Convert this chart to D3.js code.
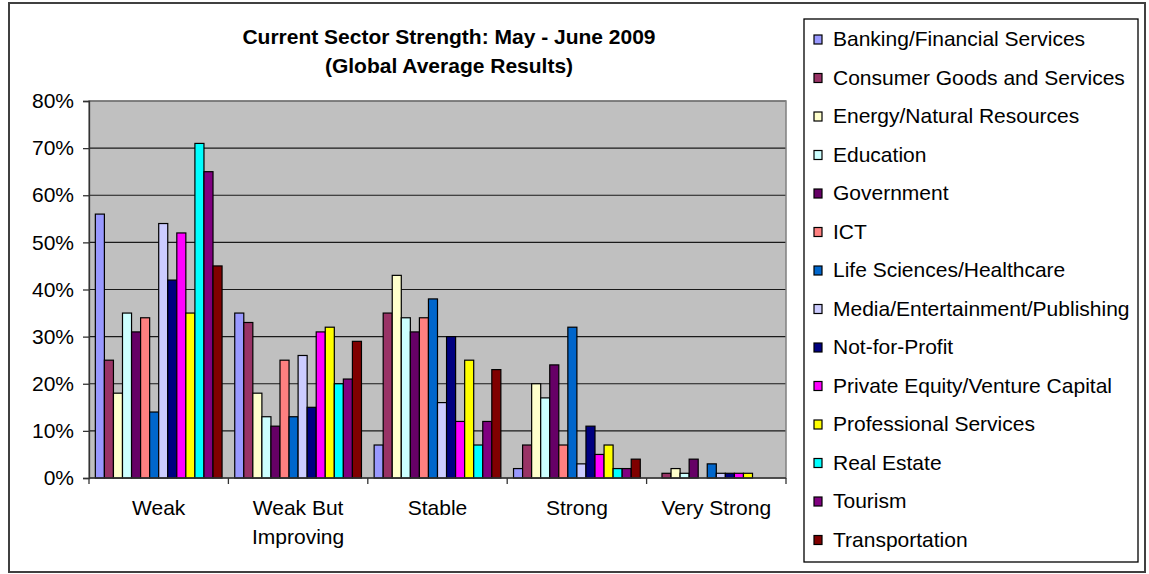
<!DOCTYPE html>
<html>
<head>
<meta charset="utf-8">
<script src="https://cdn.jsdelivr.net/npm/d3@7"></script>
<style>
  html, body { margin: 0; padding: 0; background: #fff; }
  svg { display: block; font-family: "Liberation Sans", Arial, sans-serif; }
</style>
</head>
<body>
<svg id="chart" width="1149" height="574"></svg>
<script>
// Rating buckets along the x axis
const categories = ["Weak", "Weak But Improving", "Stable", "Strong", "Very Strong"];
const categoryLines = [["Weak"], ["Weak But", "Improving"], ["Stable"], ["Strong"], ["Very Strong"]];

// Sectors (one bar each per bucket)
const sectors = [
  "Banking/Financial Services",
  "Consumer Goods and Services",
  "Energy/Natural Resources",
  "Education",
  "Government",
  "ICT",
  "Life Sciences/Healthcare",
  "Media/Entertainment/Publishing",
  "Not-for-Profit",
  "Private Equity/Venture Capital",
  "Professional Services",
  "Real Estate",
  "Tourism",
  "Transportation"
];

const sectorColors = [
  "#9999FF", "#993366", "#FFFFCC", "#CCFFFF", "#660066", "#FF8080", "#0066CC",
  "#CCCCFF", "#000080", "#FF00FF", "#FFFF00", "#00FFFF", "#800080", "#800000"
];

// Percent of respondents per sector, one array per bucket (same order as sectors)
const weak             = [56, 25, 18, 35, 31, 34, 14, 54, 42, 52, 35, 71, 65, 45];
const weakButImproving = [35, 33, 18, 13, 11, 25, 13, 26, 15, 31, 32, 20, 21, 29];
const stable           = [ 7, 35, 43, 34, 31, 34, 38, 16, 30, 12, 25,  7, 12, 23];
const strong           = [ 2,  7, 20, 17, 24,  7, 32,  3, 11,  5,  7,  2,  2,  4];
const veryStrong       = [ 0,  1,  2,  1,  4,  0,  3,  1,  1,  1,  1,  0,  0,  0];

const yTicks = [0, 10, 20, 30, 40, 50, 60, 70, 80];

const title = ["Current Sector Strength: May - June 2009", "(Global Average Results)"];

const bucketValues = [weak, weakButImproving, stable, strong, veryStrong];

const FONT = 21;

const svg = d3.select("#chart");

// Outer chart frame
svg.append("rect")
  .attr("x", 9).attr("y", 3).attr("width", 1136).attr("height", 569)
  .attr("fill", "#fff").attr("stroke", "#404040").attr("stroke-width", 2);

const plot = { left: 89, top: 101, right: 786, bottom: 478 };

const x0 = d3.scaleBand().domain(categories).range([plot.left, plot.right]).paddingInner(0).paddingOuter(0);
const x1 = d3.scaleBand().domain(sectors).range([0, x0.bandwidth()]).paddingInner(0).paddingOuter(0.7);
const y = d3.scaleLinear().domain([0, 80]).range([plot.bottom, plot.top]);

// Plot background
svg.append("rect")
  .attr("x", plot.left).attr("y", plot.top)
  .attr("width", plot.right - plot.left).attr("height", plot.bottom - plot.top)
  .attr("fill", "#C0C0C0");

// Horizontal gridlines
svg.append("g")
  .selectAll("line")
  .data(yTicks.filter(t => t > 0))
  .join("line")
  .attr("x1", plot.left).attr("x2", plot.right)
  .attr("y1", d => y(d)).attr("y2", d => y(d))
  .attr("stroke", "#1a1a1a").attr("stroke-width", 1.2);

// Plot border
svg.append("rect")
  .attr("x", plot.left).attr("y", plot.top)
  .attr("width", plot.right - plot.left).attr("height", plot.bottom - plot.top)
  .attr("fill", "none").attr("stroke", "#808080").attr("stroke-width", 1.5);

// Bars
const groups = svg.append("g")
  .selectAll("g")
  .data(categories.map((c, i) => ({ cat: c, values: bucketValues[i] })))
  .join("g")
  .attr("transform", d => `translate(${x0(d.cat)},0)`);

groups.selectAll("rect")
  .data(d => d.values.map((v, j) => ({ sector: sectors[j], value: v, color: sectorColors[j] })))
  .join("rect")
  .filter(d => d.value > 0)
  .attr("x", d => x1(d.sector))
  .attr("y", d => y(d.value))
  .attr("width", x1.bandwidth())
  .attr("height", d => y(0) - y(d.value))
  .attr("fill", d => d.color)
  .attr("stroke", "#000")
  .attr("stroke-width", 1.2);

// Y axis
const yAxis = d3.axisLeft(y)
  .tickValues(yTicks)
  .tickFormat(d => d + "%")
  .tickSize(6)
  .tickPadding(9);

const yg = svg.append("g")
  .attr("transform", `translate(${plot.left},0)`)
  .call(yAxis);
yg.select(".domain").attr("stroke", "#333").attr("stroke-width", 1.3);
yg.selectAll(".tick line").attr("stroke", "#333").attr("stroke-width", 1.3);
yg.selectAll(".tick text")
  .attr("font-size", FONT).attr("fill", "#000")
  .attr("font-family", "'Liberation Sans', Arial, sans-serif");

// X axis: baseline and boundary ticks
const xg = svg.append("g");
xg.append("line")
  .attr("x1", plot.left).attr("x2", plot.right)
  .attr("y1", y(0)).attr("y2", y(0))
  .attr("stroke", "#333").attr("stroke-width", 1.5);
const bounds = categories.map(c => x0(c)).concat([x0(categories[categories.length - 1]) + x0.bandwidth()]);
xg.selectAll("line.tick")
  .data(bounds)
  .join("line")
  .attr("class", "tick")
  .attr("x1", d => d).attr("x2", d => d)
  .attr("y1", y(0)).attr("y2", y(0) + 6)
  .attr("stroke", "#333").attr("stroke-width", 1.3);

xg.selectAll("text")
  .data(categories.map((c, i) => ({ cat: c, lines: categoryLines[i] })))
  .join("text")
  .attr("x", d => x0(d.cat) + x0.bandwidth() / 2)
  .attr("y", 515)
  .attr("text-anchor", "middle")
  .attr("font-size", FONT)
  .attr("fill", "#000")
  .selectAll("tspan")
  .data(d => d.lines)
  .join("tspan")
  .attr("x", function () { return d3.select(this.parentNode).attr("x"); })
  .attr("dy", (d, i) => i === 0 ? 0 : 29)
  .text(d => d);

// Title
svg.append("text")
  .attr("x", 449).attr("y", 44)
  .attr("text-anchor", "middle")
  .attr("font-size", FONT).attr("font-weight", "bold")
  .selectAll("tspan")
  .data(title)
  .join("tspan")
  .attr("x", 449)
  .attr("dy", (d, i) => i === 0 ? 0 : 29)
  .text(d => d);

// Legend
const legend = svg.append("g");
legend.append("rect")
  .attr("x", 804).attr("y", 19).attr("width", 334).attr("height", 543)
  .attr("fill", "#fff").attr("stroke", "#000").attr("stroke-width", 1.3);

const items = legend.selectAll("g.item")
  .data(sectors.map((s, i) => ({ name: s, color: sectorColors[i], i })))
  .join("g")
  .attr("class", "item")
  .attr("transform", d => `translate(0,${39 + d.i * 38.5})`);

items.append("rect")
  .attr("x", 814).attr("y", -4).attr("width", 8).attr("height", 9)
  .attr("fill", d => d.color).attr("stroke", "#000").attr("stroke-width", 1.2);

items.append("text")
  .attr("x", 833).attr("y", 7)
  .attr("font-size", FONT).attr("fill", "#000")
  .text(d => d.name);
</script>
</body>
</html>
